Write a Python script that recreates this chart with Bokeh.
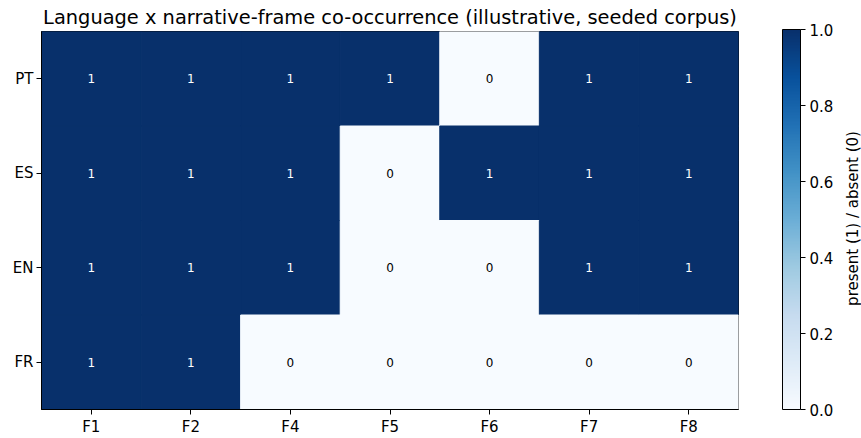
import math
from bokeh.plotting import figure
from bokeh.layouts import row
from bokeh.models import (ColumnDataSource, LinearColorMapper, ColorBar, FixedTicker,
                          PrintfTickFormatter, FactorRange, Label, Range1d)
from bokeh.palettes import Blues256
from bokeh.transform import transform
from bokeh.core.properties import value
from bokeh.embed import file_html
from bokeh.resources import INLINE

languages = ["PT", "ES", "EN", "FR"]
frames = ["F1", "F2", "F4", "F5", "F6", "F7", "F8"]
pt = [1, 1, 1, 1, 0, 1, 1]
es = [1, 1, 1, 0, 1, 1, 1]
en = [1, 1, 1, 0, 0, 1, 1]
fr = [1, 1, 0, 0, 0, 0, 0]
rows = {"PT": pt, "ES": es, "EN": en, "FR": fr}
colorbar_ticks = [0.0, 0.2, 0.4, 0.6, 0.8, 1.0]

xs, ys, vs, labels, tcolors = [], [], [], [], []
for lang in languages:
    for f, v in zip(frames, rows[lang]):
        xs.append(f)
        ys.append(lang)
        vs.append(v)
        labels.append(str(v))
        tcolors.append("white" if v > 0.5 else "black")

src = ColumnDataSource(dict(x=xs, y=ys, v=vs, label=labels, tc=tcolors))
mapper = LinearColorMapper(palette=list(Blues256[::-1]), low=0, high=1)

FONT = "DejaVu Sans"
p = figure(width=838, height=438, output_backend="svg", toolbar_location=None,
           x_range=FactorRange(*frames), y_range=FactorRange(*languages[::-1]),
           min_border_left=41, min_border_right=100, min_border_bottom=28, min_border_top=30,
           title="Language x narrative-frame co-occurrence (illustrative, seeded corpus)")

p.rect(x="x", y="y", width=1, height=1, source=src,
       fill_color=transform("v", mapper), line_color=transform("v", mapper), line_width=1)
p.text(x="x", y="y", text="label", source=src, text_color="tc",
       text_align="center", text_baseline="middle", text_font_size="12px",
       text_font=value(FONT))

p.title.text_font = FONT
p.title.text_font_size = "19.4px"
p.title.text_font_style = "normal"
p.title.text_color = "black"
p.title.align = "center"
p.title.standoff = 6
p.title.offset = 0

p.grid.visible = False
p.outline_line_color = "black"
p.outline_line_width = 1
for ax in (p.xaxis[0], p.yaxis[0]):
    ax.major_label_text_font = FONT
    ax.major_label_text_font_size = "15px"
    ax.major_label_text_color = "black"
    ax.major_tick_out = 5
    ax.major_tick_in = 0
    ax.major_tick_line_color = "black"
    ax.axis_line_color = "black"
    ax.major_label_standoff = 3
p.x_range.range_padding = 0
p.y_range.range_padding = 0
p.x_range.factor_padding = 0
p.y_range.factor_padding = 0

cb = ColorBar(color_mapper=mapper, width=18, height=380, padding=0, margin=0,
              location=(741, 0), ticker=FixedTicker(ticks=colorbar_ticks),
              formatter=PrintfTickFormatter(format="%.1f"),
              major_label_text_font=FONT, major_label_text_font_size="15px",
              major_label_text_color="black",
              major_tick_out=5, major_tick_in=0, major_tick_line_color="black",
              bar_line_color="black", label_standoff=4, minor_tick_line_color=None,
              background_fill_alpha=0)
p.add_layout(cb)

# narrow side panel holding the colour-bar label
q = figure(width=23, height=438, output_backend="svg", toolbar_location=None,
           x_range=Range1d(0, 23), y_range=Range1d(0, 438),
           min_border_left=0, min_border_right=0, min_border_top=0, min_border_bottom=0)
q.axis.visible = False
q.grid.visible = False
q.outline_line_color = None
q.add_layout(Label(x=14, y=191, x_units="screen", y_units="screen",
                   text="present (1) / absent (0)", angle=math.pi / 2,
                   text_align="center", text_baseline="middle",
                   text_font=FONT, text_font_size="15px", text_color="black"))

layout = row(p, q)
open("out.html", "w").write(file_html(layout, INLINE))
